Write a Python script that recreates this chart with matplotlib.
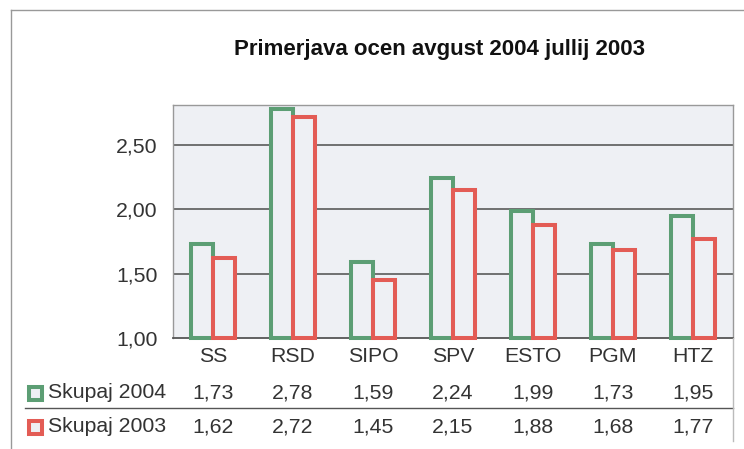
import numpy as np
import matplotlib.pyplot as plt
from matplotlib.patches import Rectangle
from matplotlib.lines import Line2D
from matplotlib.transforms import blended_transform_factory

plt.rcParams['font.family'] = ['Liberation Sans', 'DejaVu Sans']

# data
categories = ['SS', 'RSD', 'SIPO', 'SPV', 'ESTO', 'PGM', 'HTZ']
skupaj_2004 = [1.73, 2.78, 1.59, 2.24, 1.99, 1.73, 1.95]
skupaj_2003 = [1.62, 2.72, 1.45, 2.15, 1.88, 1.68, 1.77]
series_names = ['Skupaj 2004', 'Skupaj 2003']
yticks = [1.0, 1.5, 2.0, 2.5]

green = '#5c9e74'
red = '#e35c55'
bg = '#eef0f4'
txt = '#333333'
fs = 15.3

W, H = 744, 449
fig = plt.figure(figsize=(W / 100, H / 100), dpi=100)

def fx(px):
    return px / W

def fy(py):
    return 1 - py / H

# outer frame
fig.add_artist(Line2D([fx(11), 1], [fy(10), fy(10)], color='#999999', lw=1.0))
fig.add_artist(Line2D([fx(11), fx(11)], [fy(10), 0], color='#999999', lw=1.0))

ax = fig.add_axes([fx(173), fy(338), fx(733) - fx(173), (338 - 105) / H])
ax.set_facecolor(bg)

x = np.arange(len(categories))
w = 0.275
ax.bar(x - w / 2, np.array(skupaj_2004) - 1, w, bottom=1, facecolor=bg,
       edgecolor=green, linewidth=2.9, zorder=3, clip_on=False)
ax.bar(x + w / 2, np.array(skupaj_2003) - 1, w, bottom=1, facecolor=bg,
       edgecolor=red, linewidth=2.9, zorder=4, clip_on=False)

ax.set_xlim(-0.5, len(categories) - 0.5)
ax.set_ylim(1.0, 2.81)
ax.set_yticks(yticks)
ax.set_yticklabels([f'{v:.2f}'.replace('.', ',') for v in yticks],
                   fontsize=fs, color=txt)
ax.tick_params(axis='y', length=0, pad=11)
ax.set_xticks([])
for v in yticks[1:]:
    ax.axhline(v, color='#5a5a5a', lw=1.2, zorder=2)
for s in ['top', 'left', 'right']:
    ax.spines[s].set_color('#999999')
    ax.spines[s].set_linewidth(1.0)
ax.spines['bottom'].set_color('#555555')
ax.spines['bottom'].set_linewidth(1.3)

fig.text(fx(440), fy(50), 'Primerjava ocen avgust 2004 jullij 2003',
         ha='center', va='center', fontsize=16, fontweight='bold', color='#111111')

# table below
tr = blended_transform_factory(ax.transData, fig.transFigure)
for i, c in enumerate(categories):
    ax.text(i, fy(356), c, transform=tr, ha='center', va='center',
            fontsize=fs, color=txt)
    ax.text(i, fy(393), f'{skupaj_2004[i]:.2f}'.replace('.', ','), transform=tr,
            ha='center', va='center', fontsize=fs, color=txt)
    ax.text(i, fy(427), f'{skupaj_2003[i]:.2f}'.replace('.', ','), transform=tr,
            ha='center', va='center', fontsize=fs, color=txt)

fig.add_artist(Line2D([fx(25), fx(733)], [fy(408), fy(408)], color='#555555', lw=1.0))
fig.add_artist(Line2D([fx(733), fx(733)], [fy(338), fy(441)], color='#bbbbbb', lw=1.0))

for name, col, yc in zip(series_names, [green, red], [393, 427]):
    fig.add_artist(Rectangle((fx(29), fy(yc + 6.5)), fx(13), 13 / H,
                             facecolor=bg, edgecolor=col, lw=2.9))
    fig.text(fx(48), fy(yc), name, ha='left', va='center', fontsize=fs, color=txt)

fig.savefig('out.png', dpi=100)
